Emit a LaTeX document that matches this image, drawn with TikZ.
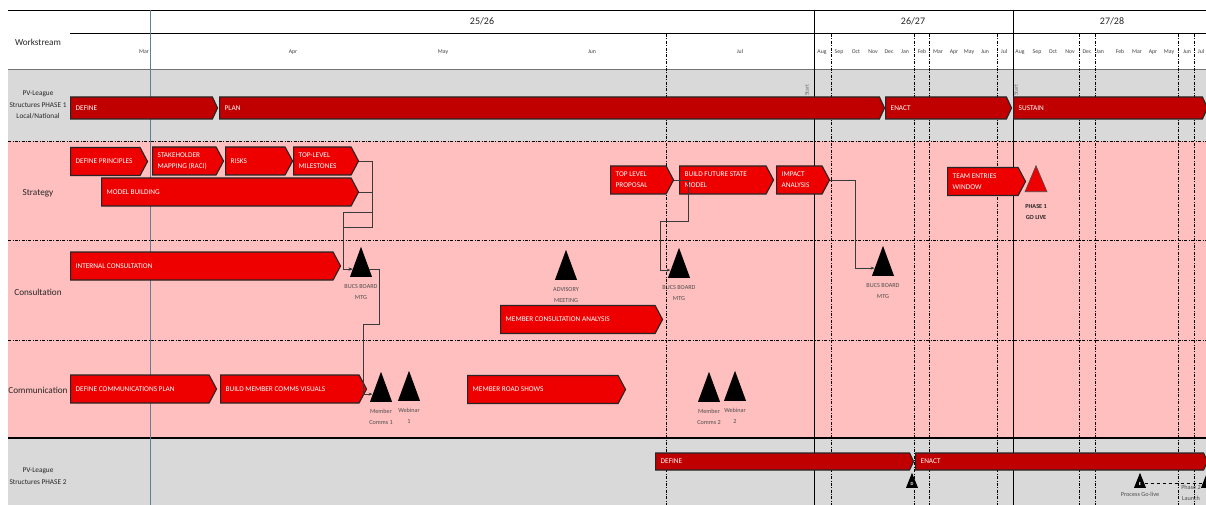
\documentclass[tikz,border=0pt]{standalone}
\usepackage{fontspec}
\setmainfont{Carlito}
\usetikzlibrary{shapes.symbols,shapes.geometric,arrows.meta}
\definecolor{phasered}{HTML}{C00000}
\definecolor{taskred}{HTML}{EE0000}
\definecolor{rowgrey}{HTML}{D9D9D9}
\definecolor{rowpink}{HTML}{FFBFBF}
\definecolor{todayblue}{HTML}{5A8196}
\definecolor{linkgrey}{HTML}{3A3A3A}
\definecolor{labgrey}{HTML}{4D4D4D}

\begin{document}
\begin{tikzpicture}[x=1pt,y=-1pt,
  phase/.style={signal,signal to=east,signal pointer angle=130,draw=black!85,line width=1.1pt,fill=phasered,inner sep=0pt,anchor=west,minimum height=22pt},
  task/.style={signal,signal to=east,signal pointer angle=124,draw=black!85,line width=1.1pt,fill=taskred,inner sep=0pt,anchor=west,minimum height=28pt},
  bartext/.style={anchor=west,text=white,font=\fontsize{7.3}{11}\selectfont,align=left,inner sep=0pt},
  mile/.style={isosceles triangle,isosceles triangle stretches,shape border rotate=90,fill=black,inner sep=0pt,anchor=lower side,minimum width=22pt,minimum height=30pt},
  mlabel/.style={anchor=north,text=labgrey,font=\fontsize{6.2}{11}\selectfont,align=center,inner sep=0pt},
  rowlabel/.style={text=black!85,font=\fontsize{9.2}{10}\selectfont,align=center,inner sep=0pt},
  smalllabel/.style={text=black!85,font=\fontsize{7.3}{11.5}\selectfont,align=center,inner sep=0pt},
  month/.style={text=black!75,font=\fontsize{5.8}{6}\selectfont,inner sep=0pt},
  year/.style={text=black!85,font=\fontsize{10}{11}\selectfont,inner sep=0pt},
  dashdot/.style={line width=0.6pt,dash pattern=on 3pt off 1.5pt on 0.8pt off 1.5pt},
  link/.style={draw=linkgrey,line width=0.6pt},
  linkarrow/.style={link,-{Stealth[length=4pt,width=3pt]}}]
\useasboundingbox (0,0) rectangle (1206,505);
% row backgrounds
\fill[rowgrey] (8,70) rectangle (1206,141);
\fill[rowpink] (8,141) rectangle (1206,438);
\fill[rowgrey] (8,438) rectangle (1206,505);
% header lines and grid
\draw[line width=0.8pt] (8,10) -- (1206,10);
\draw[line width=0.8pt] (70,33) -- (1206,33);
\draw[line width=1pt,black!55] (8,70) -- (1206,70);
\foreach \y in {141,240,340}
  \draw[dashdot] (8,\y) -- (1206,\y);
\draw[line width=1.2pt] (8,438) -- (1206,438);
\foreach \x in {666,831,914,929,997,1079,1095,1178,1194}
  \draw[dashdot] (\x,34) -- (\x,505);
\draw[line width=0.8pt] (814,10) -- (814,505);
\draw[line width=0.8pt] (1013,10) -- (1013,505);
% years and months
\node[year] (yA) at (482,21) {25/26};
\node[year] (yB) at (913,21) {26/27};
\node[year] (yC) at (1112,21) {27/28};
\foreach \x/\m in {144/Mar,293/Apr,443/May,592/Jun,740/Jul,
  822/Aug,839/Sep,856/Oct,873/Nov,889/Dec,905/Jan,922/Feb,938/Mar,954/Apr,969/May,985/Jun,1004/Jul,
  1020/Aug,1037/Sep,1053/Oct,1070/Nov,1087/Dec,1100/Jan,1120/Feb,1137/Mar,1153/Apr,1169/May,1187/Jun,1201/Jul}
  \node[month] at (\x,52) {\m};
\draw[line width=1pt,todayblue] (150,10) -- (150,505);
% row labels
\node[rowlabel] (ws) at (38,42) {Workstream};
\node[smalllabel] (rA) at (38,105) {PV-League\\Structures PHASE 1\\Local/National};
\node[rowlabel] (rB) at (38,193) {Strategy};
\node[rowlabel] (rC) at (38,292) {Consultation};
\node[rowlabel] (rD) at (38,390) {Communication};
\node[smalllabel] (rE) at (38,476) {PV-League\\Structures PHASE 2};
\node[rotate=90,text=black!55,font=\fontsize{6}{6}\selectfont,inner sep=0pt] (stA) at (807,90) {Start};
\node[rotate=90,text=black!55,font=\fontsize{6}{6}\selectfont,inner sep=0pt] (stB) at (1016,90) {Start};
% phase bars
\node[phase,minimum width=147pt] (pdefA) at (70,108) {};
\node[phase,minimum width=665pt] (pplanA) at (219,108) {};
\node[phase,minimum width=126pt] (penactA) at (885,108) {};
\node[phase,minimum width=194pt] (psustA) at (1013,108) {};
\node[phase,minimum height=17pt,minimum width=258pt] (pdefB) at (655,461.5) {};
\node[phase,minimum height=17pt,minimum width=292pt] (penactB) at (915,461.5) {};
\foreach \n/\t in {pdefA/DEFINE,pplanA/PLAN,penactA/ENACT,psustA/SUSTAIN,pdefB/DEFINE,penactB/ENACT}
  \node[bartext] at ([xshift=5.5pt]\n.west) {\t};
% task bars
\foreach \n/\x/\y/\w in {dprin/70/161.5/77,stake/152/161/71,risks/225/161/67,topms/293/161/65,
  model/101/192/257,tlprop/610/180/63,future/679/180/94,impact/776/180/53,teams/947/181.5/78,
  intcon/70/266/270,memcon/500/319.5/162,defcom/70/389/146,bldvis/220/389/146,roads/467/389.5/158}
  \node[task,minimum width=\w pt] (\n) at (\x,\y) {};
\foreach \n/\t in {dprin/DEFINE PRINCIPLES,stake/{STAKEHOLDER\\MAPPING (RACI)},risks/RISKS,
  topms/{TOP-LEVEL\\MILESTONES},model/MODEL BUILDING,tlprop/{TOP LEVEL\\PROPOSAL},
  future/{BUILD FUTURE STATE\\MODEL},impact/{IMPACT\\ANALYSIS},teams/{TEAM ENTRIES\\WINDOW},
  intcon/INTERNAL CONSULTATION,memcon/MEMBER CONSULTATION ANALYSIS,
  defcom/DEFINE COMMUNICATIONS PLAN,bldvis/BUILD MEMBER COMMS VISUALS,roads/MEMBER ROAD SHOWS}
  \node[bartext] at ([xshift=5.5pt]\n.west) {\t};
% milestones
\foreach \n/\x/\y in {bucsA/361/277,advis/566/280,bucsB/679/278,bucsC/883/276,
  commsA/381/402,webA/409/401,commsB/709/402,webB/735/401}
  \node[mile] (\n) at (\x,\y) {};
\foreach \n/\t in {bucsA/{BUCS BOARD\\MTG},advis/{ADVISORY\\MEETING},bucsB/{BUCS BOARD\\MTG},
  bucsC/{BUCS BOARD\\MTG},commsA/{Member\\Comms 1},webA/{Webinar\\1},commsB/{Member\\Comms 2},webB/{Webinar\\2}}
  \node[mlabel] at ([yshift=-7pt]\n.lower side) {\t};
\node[mile,fill=taskred,draw=black!70,line width=0.6pt,minimum height=26pt] (golive) at (1036,192) {};
\node[mlabel,text=black!85,font=\bfseries\fontsize{6.2}{11}\selectfont] at ([yshift=-12pt]golive.lower side) {PHASE 1\\GO LIVE};
\node[mile,minimum width=12pt,minimum height=15pt] (dmark) at (912,488) {};
\node[mile,minimum width=12pt,minimum height=15pt] (emark) at (1140,488) {};
\node[mile,minimum width=12pt,minimum height=15pt] (launch) at (1207,488) {};
\node[text=white,font=\bfseries\fontsize{4.5}{4.5}\selectfont,inner sep=0pt] at ([yshift=4pt]dmark.lower side) {D};
\node[text=white,font=\bfseries\fontsize{4.5}{4.5}\selectfont,inner sep=0pt] at ([yshift=4pt]emark.lower side) {E};
\node[mlabel] at ([yshift=-4pt]emark.lower side) {Process Go-live};
\node[mlabel] at (1191,485) {Phase 2\\Launch};
\draw[line width=0.9pt,dashed] (emark.east) -- (launch.west);
% links
\draw[linkarrow] (topms.east) -- ++(13,0) |- (343,227) |- (bucsA.west);
\draw[linkarrow] (model.east) -- ++(13,0) |- (343,212) |- (bucsA.west);
\draw[linkarrow] (bucsA.east) -| (379,324) -- (363,324) |- (commsA.west);
\draw[linkarrow] (tlprop.east) -- ++(14,0) |- (660,221) |- (bucsB.west);
\draw[linkarrow] (impact.east) -- ++(25,0) |- (bucsC.west);
\end{tikzpicture}
\end{document}
